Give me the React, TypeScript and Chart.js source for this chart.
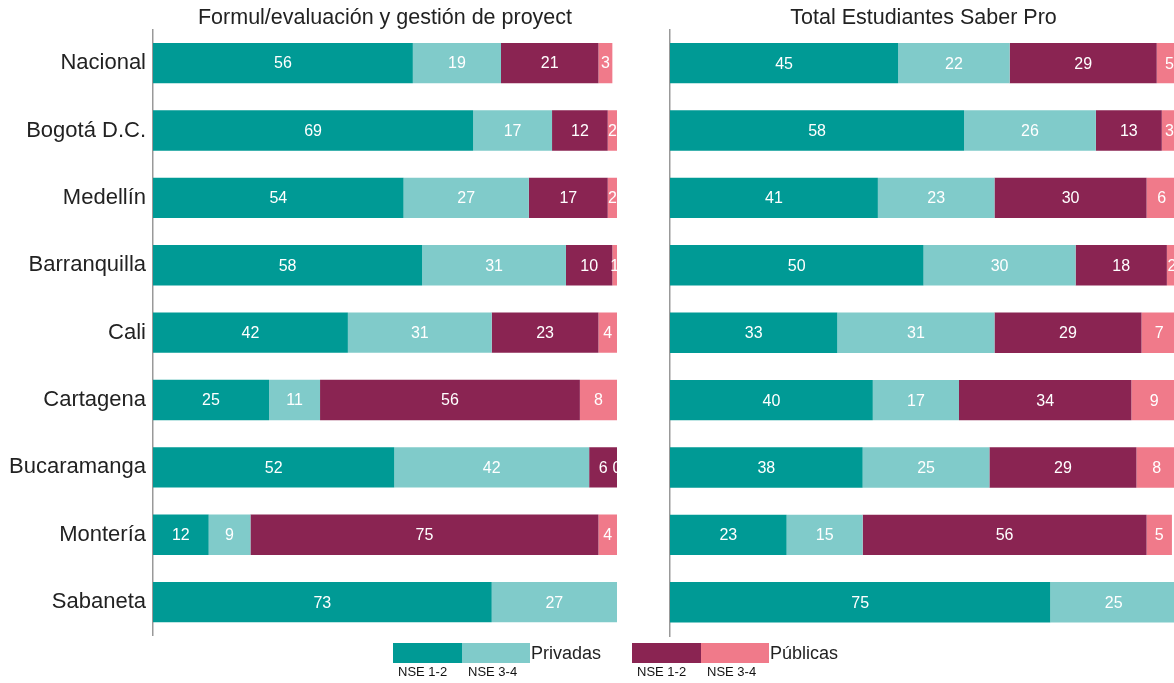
import React, { useEffect, useRef } from "react";
import { Chart, registerables } from "chart.js";

Chart.register(...registerables);

const categories = [
  "Nacional",
  "Bogotá D.C.",
  "Medellín",
  "Barranquilla",
  "Cali",
  "Cartagena",
  "Bucaramanga",
  "Montería",
  "Sabaneta",
];

const seriesNames = ["Privadas NSE 1-2", "Privadas NSE 3-4", "Públicas NSE 1-2", "Públicas NSE 3-4"];

// Left panel: Formul/evaluación y gestión de proyect
const leftPrivNse12 = [56, 69, 54, 58, 42, 25, 52, 12, 73];
const leftPrivNse34 = [19, 17, 27, 31, 31, 11, 42, 9, 27];
const leftPubNse12 = [21, 12, 17, 10, 23, 56, 6, 75, null];
const leftPubNse34 = [3, 2, 2, 1, 4, 8, 0, 4, null];

// Right panel: Total Estudiantes Saber Pro
const rightPrivNse12 = [45, 58, 41, 50, 33, 40, 38, 23, 75];
const rightPrivNse34 = [22, 26, 23, 30, 31, 17, 25, 15, 25];
const rightPubNse12 = [29, 13, 30, 18, 29, 34, 29, 56, null];
const rightPubNse34 = [5, 3, 6, 2, 7, 9, 8, 5, null];

const leftTitle = "Formul/evaluación y gestión de proyect";
const rightTitle = "Total Estudiantes Saber Pro";

const colors = ["#009A95", "#80CBCA", "#8A2452", "#F07A8A"];
const FONT = "'Liberation Sans', Arial, Helvetica, sans-serif";

const labelPlugin = {
  id: "segLabels",
  afterDatasetsDraw(chart: any) {
    const ctx = chart.ctx;
    ctx.save();
    ctx.font = `16px ${FONT}`;
    ctx.fillStyle = "#ffffff";
    ctx.textAlign = "center";
    ctx.textBaseline = "middle";
    chart.data.datasets.forEach((ds: any, di: number) => {
      const meta = chart.getDatasetMeta(di);
      meta.data.forEach((bar: any, i: number) => {
        const v = ds.data[i];
        if (v === null || v === undefined) return;
        const cx = (bar.x + bar.base) / 2;
        ctx.fillText(String(v), cx, bar.y + 1);
      });
    });
    ctx.restore();
  },
};

const titlePlugin = {
  id: "panelTitle",
  afterDraw(chart: any) {
    const t = chart.options.plugins.panelTitle?.text;
    if (!t) return;
    const ctx = chart.ctx;
    const a = chart.chartArea;
    ctx.save();
    ctx.font = `21.5px ${FONT}`;
    ctx.fillStyle = "#222222";
    ctx.textAlign = "center";
    ctx.textBaseline = "middle";
    ctx.fillText(t, (a.left + a.right) / 2, 18);
    ctx.restore();
  },
};

function makeConfig(
  data: (number | null)[][],
  title: string,
  showLabels: boolean,
  axisWidth: number,
  padLeft: number,
  padRight: number,
  padBottom: number
): any {
  return {
    type: "bar",
    data: {
      labels: categories,
      datasets: data.map((d, i) => ({
        label: seriesNames[i],
        data: d,
        backgroundColor: colors[i],
        borderWidth: 0,
        barPercentage: 0.6,
        categoryPercentage: 1,
      })),
    },
    options: {
      indexAxis: "y",
      responsive: false,
      animation: false,
      layout: { padding: { top: 29.4, bottom: padBottom, left: padLeft, right: padRight } },
      plugins: {
        legend: { display: false },
        tooltip: { enabled: false },
        title: { display: false },
        panelTitle: { text: title },
      },
      scales: {
        x: { display: false, stacked: true, min: 0, max: 100 },
        y: {
          stacked: true,
          grid: { display: false, drawTicks: false },
          border: { display: true, color: "#999999", width: 1.5 },
          ticks: {
            display: showLabels,
            padding: 7,
            color: "#222222",
            font: { size: 22, family: FONT },
          },
          afterFit: (axis: any) => {
            axis.width = axisWidth;
          },
        },
      },
    },
    plugins: [labelPlugin, titlePlugin],
  };
}

function Panel(props: {
  data: (number | null)[][];
  title: string;
  showLabels: boolean;
  axisWidth: number;
  padLeft: number;
  padRight: number;
  padBottom: number;
  left: number;
  width: number;
  height: number;
}) {
  const ref = useRef<HTMLCanvasElement>(null);
  useEffect(() => {
    if (!ref.current) return;
    const chart = new Chart(
      ref.current,
      makeConfig(
        props.data,
        props.title,
        props.showLabels,
        props.axisWidth,
        props.padLeft,
        props.padRight,
        props.padBottom
      )
    );
    return () => chart.destroy();
  }, []);
  return (
    <canvas
      ref={ref}
      width={props.width}
      height={props.height}
      style={{ position: "absolute", left: props.left, top: 0, width: props.width, height: props.height }}
    />
  );
}

function LegendBlock(props: { left: number; c1: string; c2: string; label: string }) {
  const { left } = props;
  const small: React.CSSProperties = {
    position: "absolute",
    top: 664,
    fontSize: 13,
    fontFamily: FONT,
    color: "#111",
    whiteSpace: "nowrap",
    lineHeight: "16px",
  };
  return (
    <>
      <div style={{ position: "absolute", left, top: 643, width: 69, height: 20, background: props.c1 }} />
      <div style={{ position: "absolute", left: left + 69, top: 643, width: 68, height: 20, background: props.c2 }} />
      <div
        style={{
          position: "absolute",
          left: left + 138,
          top: 642,
          fontSize: 18,
          fontFamily: FONT,
          color: "#222",
          lineHeight: "22px",
          whiteSpace: "nowrap",
        }}
      >
        {props.label}
      </div>
      <div style={{ ...small, left: left + 5 }}>NSE 1-2</div>
      <div style={{ ...small, left: left + 75 }}>NSE 3-4</div>
    </>
  );
}

export default function App() {
  return (
    <div
      style={{
        position: "fixed",
        left: 0,
        top: 0,
        width: 1174,
        height: 683,
        overflow: "hidden",
        background: "#ffffff",
      }}
    >
      <Panel
        data={[leftPrivNse12, leftPrivNse34, leftPubNse12, leftPubNse34]}
        title={leftTitle}
        showLabels={true}
        axisWidth={153}
        padLeft={0}
        padRight={8}
        padBottom={4}
        left={0}
        width={625}
        height={656}
      />
      <Panel
        data={[rightPrivNse12, rightPrivNse34, rightPubNse12, rightPubNse34]}
        title={rightTitle}
        showLabels={false}
        axisWidth={0}
        padLeft={10}
        padRight={3}
        padBottom={4}
        left={660}
        width={520}
        height={640}
      />
      <LegendBlock left={393} c1={colors[0]} c2={colors[1]} label="Privadas" />
      <LegendBlock left={632} c1={colors[2]} c2={colors[3]} label="Públicas" />
    </div>
  );
}
